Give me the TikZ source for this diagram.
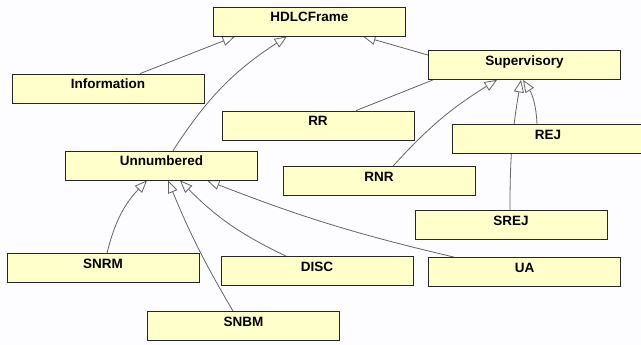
\documentclass[tikz,border=0pt]{standalone}
\usepackage{fontspec}
\setmainfont{Liberation Sans}
\usetikzlibrary{arrows.meta,backgrounds}
\definecolor{boxfill}{HTML}{FFFFCC}
\definecolor{linegray}{HTML}{646464}
\definecolor{paper}{HTML}{FDFCFE}
\begin{document}
\begin{tikzpicture}[x=1pt, y=-1pt,
	cls/.style={draw=black!85, fill=boxfill, line width=0.8pt, minimum width=192pt,
		inner xsep=0pt, inner ysep=5.5pt, text height=9.5pt, text depth=8.5pt,
		font=\fontsize{13.5}{15}\selectfont\bfseries},
	gen/.style={draw=linegray, line width=0.8pt, -{Triangle[length=12.5pt, width=10pt, fill=white]}},
	plain/.style={draw=linegray, line width=0.8pt}]
	\useasboundingbox (0,0) rectangle (641,345);
	% Nodes
	\node[cls] (HDLC) at (309.5,21.5) {HDLCFrame};
	\node[cls] (Info) at (108,88.5) {Information};
	\node[cls] (Super) at (524.5,65) {Supervisory};
	\node[cls] (RR) at (318,125.5) {RR};
	\node[cls] (REJ) at (548,139) {REJ};
	\node[cls] (RNR) at (379,181) {RNR};
	\node[cls] (Unnum) at (161.5,165.5) {Unnumbered};
	\node[cls] (SREJ) at (511,225) {SREJ};
	\node[cls] (SNRM) at (103,268) {SNRM};
	\node[cls] (DISC) at (317,271) {DISC};
	\node[cls] (UA) at (524.5,272) {UA};
	\node[cls] (SNBM) at (243.5,326) {SNBM};

	% Arrows
	\begin{scope}[on background layer]
	\fill[paper] (0,0) rectangle (641,345);
	\draw[gen] ([xshift=32pt]Info.north) -- ([xshift=-74.5pt]HDLC.south);
	\draw[gen] ([xshift=11.5pt]Unnum.north) to[bend left=12] ([xshift=-22.5pt]HDLC.south);
	\draw[gen] ([yshift=-5pt]Super.north west) -- ([xshift=53.5pt]HDLC.south);
	\draw[plain] ([xshift=38pt]RR.north) -- ([xshift=-91.5pt]Super.south);
	\draw[gen] ([xshift=14pt]RNR.north) to[bend left=8] ([xshift=-27.5pt]Super.south);
	\draw[gen] ([xshift=-11pt]REJ.north) to[bend right=15] ([xshift=-1.5pt]Super.south);
	\draw[gen] ([xshift=-1pt]SREJ.north) to[bend left=5] ([xshift=-3.5pt]Super.south);
	\draw[gen] ([xshift=4pt]SNRM.north) to[bend left=15] ([xshift=-14.5pt]Unnum.south);
	\draw[gen] ([xshift=-10.5pt]SNBM.north) to[bend left=4] ([xshift=6.5pt]Unnum.south);
	\draw[gen] ([xshift=-31pt]DISC.north) to[bend left=10] ([xshift=18.5pt]Unnum.south);
	\draw[gen] ([xshift=-70.5pt]UA.north) to[bend left=4] ([xshift=45.5pt]Unnum.south);
	\end{scope}
\end{tikzpicture}
\end{document}
